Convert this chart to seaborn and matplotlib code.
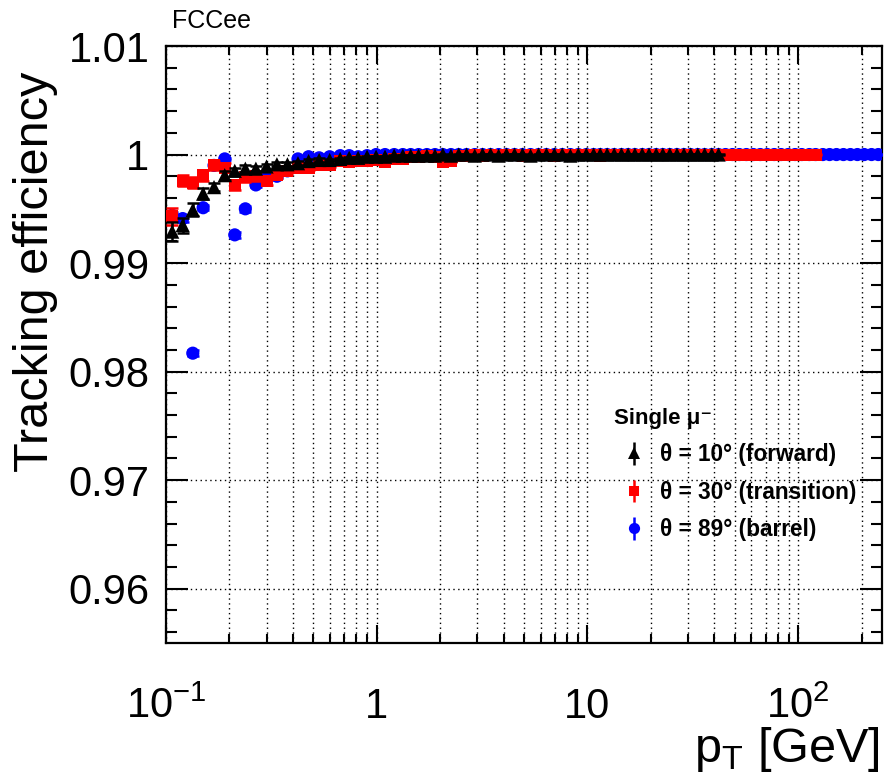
import numpy as np
import pandas as pd
import matplotlib
matplotlib.use("Agg")
import matplotlib.pyplot as plt
import matplotlib.ticker as mticker
import seaborn as sns

# ---------------- data ----------------
pt = [0.107, 0.120, 0.134, 0.150, 0.169, 0.190, 0.212, 0.238, 0.267, 0.300,
      0.336, 0.377, 0.423, 0.475, 0.533, 0.598, 0.671, 0.740, 0.816, 0.900,
      0.993, 1.095, 1.21, 1.33, 1.45, 1.58, 1.73, 1.89, 2.06, 2.25,
      2.45, 2.67, 2.92, 3.18, 3.47, 3.79, 4.13, 4.51, 4.92, 5.37,
      5.86, 6.39, 6.97, 7.60, 8.30, 9.05, 9.88, 10.7, 11.5, 12.4,
      13.4, 14.5, 15.6, 16.8, 18.2, 19.6, 21.2, 22.8, 24.6, 26.6,
      28.7, 30.9, 33.4, 36.0, 38.9, 41.9, 45.2, 48.8, 52.6, 56.8,
      61.3, 66.1, 71.3, 77.0, 83.0, 89.6, 96.7, 104, 113, 121,
      131, 141, 152, 164, 177, 191, 206, 223, 240]

eff_forward = [0.9929, 0.9935, 0.9949, 0.9964, 0.9970, 0.9981, 0.9985, 0.9987, 0.9987, 0.9989,
               0.9991, 0.9991, 0.9992, 0.9994, 0.9995, 0.9995, 0.9996, 0.9997, 0.9997, 0.9998,
               0.9998, 0.9998, 0.9999, 0.9999, 0.9999, 0.9999, 0.9999, 0.9999, 1.0, 0.9999,
               1.0, 1.0, 0.9999, 1.0, 1.0, 0.9999, 1.0, 1.0, 1.0, 0.9999,
               1.0, 1.0, 1.0, 1.0, 0.9999, 1.0, 1.0, 1.0, 1.0, 1.0,
               1.0, 1.0, 1.0, 1.0, 1.0, 1.0, 1.0, 1.0, 1.0, 1.0,
               1.0, 1.0, 1.0, 1.0, 1.0, 1.0]

eff_transition = [0.9943, 0.9976, 0.9974, 0.9981, 0.9990, 0.9988, 0.9972, 0.9979, 0.9980, 0.9976,
                  0.9981, 0.9985, 0.9988, 0.9988, 0.9990, 0.9990, 0.9994, 0.9993, 0.9994, 0.9994,
                  0.9995, 0.9993, 0.9996, 0.9996, 0.9998, 0.9998, 0.9999, 0.9998, 0.9993, 0.9994,
                  0.9999, 0.9999, 1.0, 0.9999, 1.0, 0.9999, 1.0, 1.0, 0.9999, 1.0,
                  1.0, 1.0, 0.9999, 1.0, 1.0, 1.0, 1.0, 1.0, 0.9999, 1.0,
                  1.0, 1.0, 1.0, 1.0, 1.0, 1.0, 1.0, 1.0, 1.0, 1.0,
                  1.0, 1.0, 1.0, 1.0, 1.0, 1.0, 1.0, 1.0, 1.0, 1.0,
                  1.0, 1.0, 1.0, 1.0, 1.0, 1.0, 1.0, 1.0, 1.0, 1.0]

eff_barrel = [0.9944, 0.9941, 0.9817, 0.9951, 0.9990, 0.9996, 0.9926, 0.9950, 0.9972, 0.9979,
              0.9980, 0.9985, 0.9996, 0.9998, 0.9997, 0.9998, 0.9999, 0.9999, 0.9998, 0.9999,
              1.0, 1.0, 1.0, 1.0, 1.0, 1.0, 1.0, 1.0, 1.0, 1.0,
              1.0, 1.0, 1.0, 1.0, 1.0, 1.0, 1.0, 1.0, 1.0, 1.0,
              1.0, 1.0, 1.0, 1.0, 1.0, 1.0, 1.0, 1.0, 1.0, 1.0,
              1.0, 1.0, 1.0, 1.0, 1.0, 1.0, 1.0, 1.0, 1.0, 1.0,
              1.0, 1.0, 1.0, 1.0, 1.0, 1.0, 1.0, 1.0, 1.0, 1.0,
              1.0, 1.0, 1.0, 1.0, 1.0, 1.0, 1.0, 1.0, 1.0, 1.0,
              1.0, 1.0, 1.0, 1.0, 1.0, 1.0, 1.0, 1.0, 1.0]

# statistical errors (low-pT bins listed, remaining bins use err_high)
err_forward_low = [0.0009, 0.0007, 0.0006, 0.0005, 0.0004, 0.0004, 0.0003, 0.0003, 0.00025, 0.00025,
                   0.0002, 0.0002, 0.00018, 0.00015, 0.00015, 0.00012, 0.00012, 0.0001, 0.0001, 0.0001]
err_transition_low = [0.0008, 0.0005, 0.0005, 0.0005, 0.0004, 0.0004, 0.0005, 0.0004, 0.0004, 0.0004,
                      0.0003, 0.00025, 0.00025, 0.0002, 0.0002, 0.00018, 0.00015, 0.00015, 0.00012, 0.00012]
err_barrel_low = [0.0003, 0.0003, 0.00025, 0.00025, 0.0002, 0.00012, 0.00025, 0.00025, 0.0002, 0.00015,
                  0.00015, 0.00012, 0.0001, 0.0001, 0.0001, 0.00008, 0.00008, 0.00006, 0.00006, 0.00006]
err_high = 0.00005

labels = ["θ = 10° (forward)", "θ = 30° (transition)", "θ = 89° (barrel)"]
legend_title = "Single μ\u207b"

# ---------------- style ----------------
sns.set_theme(style="ticks")
plt.rcParams["font.family"] = ["Liberation Sans", "DejaVu Sans"]
plt.rcParams["mathtext.fontset"] = "custom"
plt.rcParams["mathtext.rm"] = "Liberation Sans"
plt.rcParams["mathtext.it"] = "Liberation Sans:italic"
plt.rcParams["mathtext.bf"] = "Liberation Sans:bold"
for k in ["text.color", "axes.labelcolor", "xtick.color", "ytick.color",
          "xtick.labelcolor", "ytick.labelcolor", "axes.edgecolor"]:
    plt.rcParams[k] = "black"

fig = plt.figure(figsize=(8.86, 7.82), dpi=100)
ax = fig.add_axes([166 / 886, 1 - 643 / 782, (882 - 166) / 886, (643 - 46) / 782])


def build(eff, err_low):
    n = len(eff)
    err = list(err_low) + [err_high] * (n - len(err_low))
    return pd.DataFrame({"pt": pt[:n], "eff": eff, "err": err})


series = [
    (build(eff_barrel, err_barrel_low), "#0000ff", "o", 90, 3),
    (build(eff_transition, err_transition_low), "#ff0000", "s", 75, 4),
    (build(eff_forward, err_forward_low), "black", "^", 105, 5),
]

for df, col, mk, size, z in series:
    ax.errorbar(df["pt"], df["eff"], yerr=df["err"], fmt="none", ecolor=col,
                elinewidth=1.8, capsize=4.5, capthick=1.8, zorder=z)
    sns.scatterplot(data=df, x="pt", y="eff", marker=mk, color=col, s=size,
                    linewidth=0, edgecolor="none", ax=ax, zorder=z + 0.1, legend=False)

# ---------------- axes ----------------
ax.set_xscale("log")
ax.set_xlim(0.1, 250)
ax.set_ylim(0.955, 1.01)
ax.set_xticks([0.1, 1, 10, 100])
ax.set_xticklabels([r"$10^{-1}$", "1", "10", r"$10^{2}$"])
ax.xaxis.set_minor_locator(mticker.LogLocator(base=10, subs=np.arange(2, 10), numticks=20))
ax.xaxis.set_minor_formatter(mticker.NullFormatter())
ax.yaxis.set_major_locator(mticker.MultipleLocator(0.01))
ax.yaxis.set_minor_locator(mticker.MultipleLocator(0.002))
ax.yaxis.set_major_formatter(mticker.FuncFormatter(lambda v, p: f"{v:g}"))

ax.set_xlabel("")
ax.set_ylabel("")

for s in ax.spines.values():
    s.set_linewidth(1.6)
    s.set_color("black")

ax.tick_params(axis="both", which="both", direction="in", top=True, right=True,
               width=1.5, color="black", labelcolor="black")
ax.tick_params(axis="y", which="major", length=16, labelsize=30, pad=12)
ax.tick_params(axis="y", which="minor", length=8)
ax.tick_params(axis="x", which="major", length=13, labelsize=30, pad=54)
ax.tick_params(axis="x", which="minor", length=6.5)
for lab in ax.get_xticklabels():
    lab.set_verticalalignment("baseline")

ax.grid(True, axis="x", which="both", color="black", linestyle=(0, (1, 2.5)), linewidth=1.0, zorder=0)
ax.grid(True, axis="y", which="major", color="black", linestyle=(0, (1, 2.5)), linewidth=1.0, zorder=0)
ax.set_axisbelow(True)

fig.text(880 / 886, 1 - 762 / 782, r"p$_{\mathrm{T}}$ [GeV]", ha="right", va="baseline", fontsize=35, color="black")
fig.text(36 / 886, 1 - 72 / 782, "Tracking efficiency", rotation=90, ha="center", va="top", fontsize=35, color="black")
fig.text(172 / 886, 1 - 28 / 782, "FCCee", ha="left", va="baseline", fontsize=18, color="black")

# legend proxies
handles = []
for (df, col, mk, size, z) in [series[2], series[1], series[0]]:
    h = ax.errorbar([np.nan], [np.nan], yerr=[1], fmt=mk, color=col, ecolor=col,
                    markersize=np.sqrt(size) * 0.85, elinewidth=1.8, capsize=0, markeredgewidth=0)
    handles.append(h)

leg = ax.legend(handles, labels, title=legend_title, loc="upper left",
                bbox_to_anchor=(598 / 886, 1 - 392 / 782), bbox_transform=fig.transFigure,
                frameon=False, fontsize=16.3, handlelength=1.8, handletextpad=0.25,
                labelspacing=0.64, borderpad=0.2, alignment="left",
                title_fontproperties={"weight": "bold", "size": 16})
for t in leg.get_texts():
    t.set_fontweight("bold")
    t.set_color("black")
leg.get_title().set_color("black")

fig.savefig("out.png", dpi=100)
